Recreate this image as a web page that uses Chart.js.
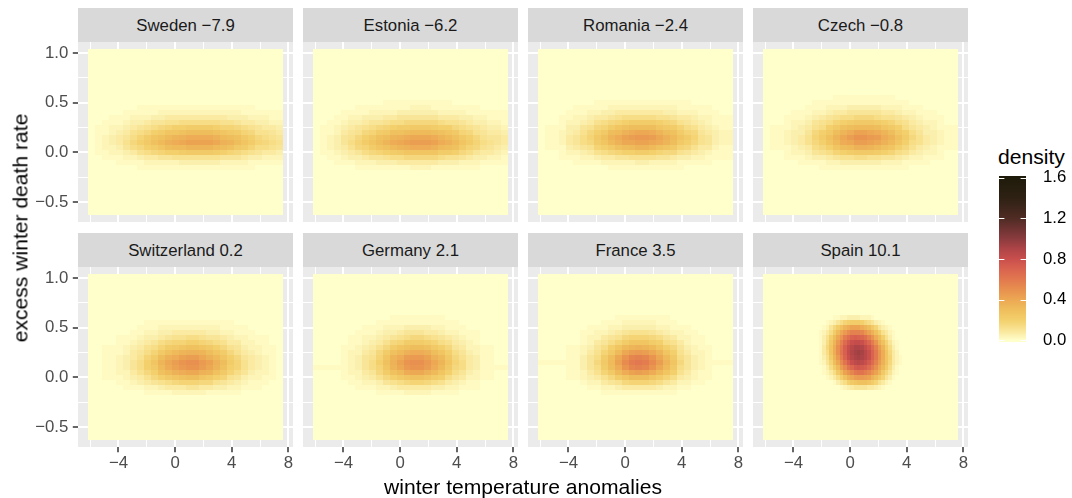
<!DOCTYPE html>
<html>
<head>
<meta charset="utf-8">
<script src="https://cdn.jsdelivr.net/npm/chart.js@4.4.1/dist/chart.umd.min.js"></script>
<style>
  html, body { margin: 0; padding: 0; background: #fff; }
  #fig { position: relative; width: 1072px; height: 498px; overflow: hidden;
         font-family: "Liberation Sans", Arial, Helvetica, sans-serif; }
  #fig canvas { position: absolute; }
  .strip { position: absolute; height: 33px; padding-top: 1px; line-height: 34px; background: #D9D9D9;
           color: #1A1A1A; font-size: 16.8px; text-align: center; white-space: nowrap; }
  .title { position: absolute; color: #000; font-size: 21.1px; line-height: 1; white-space: nowrap; }
</style>
</head>
<body>
<div id="fig"></div>
<script>
// ---------------- data ----------------
const countries   = ["Sweden", "Estonia", "Romania", "Czech", "Switzerland", "Germany", "France", "Spain"];
const winterTemps = [-7.9, -6.2, -2.4, -0.8, 0.2, 2.1, 3.5, 10.1];

const xBreaks      = [-4, 0, 4, 8];
const xMinorBreaks = [-6, -2, 2, 6];
const yBreaks      = [-0.5, 0, 0.5, 1];
const yMinorBreaks = [-0.25, 0.25, 0.75];
const densityBreaks = [0, 0.4, 0.8, 1.2, 1.6];

// extent of the estimated density grid (x: temperature anomaly, y: death rate)
const gridX = [-6.17, 7.64];
const gridY = [-0.63, 1.035];

// each density row runs left -> right, rows run top -> bottom;
// one character per cell, value = index in densityDigits * densityStep
const densityStep   = 0.02;
const densityDigits = "0123456789abcdefghijklmnopqrstuvwxyzABCDEFGHIJKLMNOPQRSTUVWXYZ";
const Z = "0000000000000000000000000000";

const densitySweden = [
  Z, Z, Z, Z, Z, Z, Z, Z, Z, Z, Z,
  "0000000111111111111111110000",
  "0000011111222222222222111111",
  "0001112223344444444433322211",
  "0011123345566777777665443322",
  "011223456789aabbbba998765443",
  "011234678abddeffffedcb986654",
  "01234579bdeghijjjjigfeca8765",
  "0123468acegijkllllkihfdb9876",
  "01223578abdfgghhhhgfecb97765",
  "01122346789aabccccba98765443",
  "0011122344556666666555433222",
  "0000111122222333333222211111",
  "0000000111111111111111110000",
  Z, Z, Z, Z, Z, Z, Z, Z, Z
];

const densityEstonia = [
  Z, Z, Z, Z, Z, Z, Z, Z, Z, Z,
  "0000000000111111111100000000",
  "0000001111111122211111110000",
  "0000111122223333332222111111",
  "0001122333445555554443322111",
  "0011233455677888887665433221",
  "01123456789abbcccbaa87654332",
  "011245689bceefgggfedc9865443",
  "0123568acefhijkkkjhgeca86554",
  "0123579bdfhjklmmmljigdb97654",
  "01234689bdeghijjjigfeb986543",
  "0112345789abcdddddbba8754432",
  "0011233455677888887665433221",
  "0001112223334444443332221111",
  "0000001111111122211111110000",
  Z, Z, Z, Z, Z, Z, Z, Z, Z
];

const densityRomania = [
  Z, Z, Z, Z, Z, Z, Z, Z, Z, Z,
  "0000000011111111111111000000",
  "0000011111222222222211111000",
  "0000111223344444443322211100",
  "0001122344567777766544322111",
  "000122346789abbbba9865432111",
  "0111335689bdeffffdcb97643211",
  "01123468acfgijkkjhfeb9854322",
  "01124579cehjlmnnmkigdb965322",
  "01124578bdgikkllkjhfca865322",
  "011134569acefghhgedc98644211",
  "000122346789aabba98865432111",
  "0001112234455666655433221111",
  "0000011112222233222211111000",
  "0000000000111111111110000000",
  Z, Z, Z, Z, Z, Z, Z, Z, Z
];

const densityCzech = [
  Z, Z, Z, Z, Z, Z, Z, Z, Z,
  "0000000000111111111000000000",
  "0000000111111111111110000000",
  "0000001112223333322211100000",
  "0000111223445555544322111000",
  "0001112345677888766543211100",
  "00012235679abcccba9764322100",
  "011123467acefgggfdca75432111",
  "01123358acfhjllkjhfca7533211",
  "01123469behkmoonmjheb8643211",
  "01123468adgjkmmlkigda7643211",
  "011123478adfgiihgeda86432111",
  "00012235679abcccba9764322100",
  "0001112334566776655432211100",
  "0000011112233333322211110000",
  "0000000011111111111110000000",
  Z, Z, Z, Z, Z, Z, Z, Z, Z
];

const densitySwitzerland = [
  Z, Z, Z, Z, Z, Z, Z, Z, Z,
  "0000000011111111111110000000",
  "0000000111222222222111100000",
  "0000001122334444433221110000",
  "0000111233456677655432211100",
  "00001123457899aa987644221100",
  "00111234679bcdeedca865322110",
  "0011124579ceghiihfdb86432110",
  "001123469bfijlmmkigda8543210",
  "00112357adhkmoppnlifb9643210",
  "00112357acgjlnoomkhea9643210",
  "001122468aegijkkihec97532210",
  "0011123468acdeffdca965322110",
  "0000112345678999886543211100",
  "0000011122344455443322111000",
  "0000000011112222211111000000",
  Z, Z, Z, Z, Z, Z, Z, Z, Z
];

const densityGermany = [
  Z, Z, Z, Z, Z, Z, Z, Z,
  "0000000000011111111000000000",
  "0000000001111111111110000000",
  "0000000111222333322111000000",
  "0000001112334555443221110000",
  "0000011223456788765432110000",
  "0000011234689bbba97643210000",
  "00001123468bdeffeca854221100",
  "0000122458begijjifda75321100",
  "0000123569dhjmnnligc86431100",
  "000012357aeiloppnkhd97431100",
  "1111123579dhknoomjgc87431111",
  "0000122458begjkkigda75321100",
  "00001123468acdeedba754221100",
  "0000011223567899876432110000",
  "0000001112234444433221110000",
  "0000000001111222211110000000",
  Z, Z, Z, Z, Z, Z, Z, Z, Z
];

const densityFrance = [
  Z, Z, Z, Z, Z, Z, Z, Z,
  "0000000000011111111000000000",
  "0000000001112222211100000000",
  "0000000111223333322111000000",
  "0000001122345666543221100000",
  "0000001224568999875422110000",
  "000000124579bdddba7642110000",
  "0000112357adghihgda853211000",
  "0000112469cgkmnmkhda64221000",
  "000011357bfkorsrokgc75321000",
  "111111358cglqtutqmhd85321111",
  "000011357bfjorsrokgc75321000",
  "0000112469cgjlmljgda64211000",
  "00001123468bdfffdb9743211000",
  "0000001224568999875422110000",
  "0000000112234444432211000000",
  "0000000001111111111100000000",
  Z, Z, Z, Z, Z, Z, Z, Z, Z
];

// Spain is read on a finer grid (56 columns); zero runs are written as repeats
const Z56 = "0".repeat(56);
const densitySpain = [
  Z56, Z56, Z56, Z56, Z56, Z56, Z56, Z56,
  "0".repeat(20) + "112233332221"             + "0".repeat(24),
  "0".repeat(18) + "123579abbba875321"        + "0".repeat(21),
  "0".repeat(17) + "1258behjllljhfc95321"     + "0".repeat(19),
  "0".repeat(16) + "1247bgknqsssroliea6421"   + "0".repeat(18),
  "0".repeat(16) + "136afkotwzAzywsojfa631"   + "0".repeat(18),
  "0".repeat(16) + "137chnsxBEFFEBytoie9521"  + "0".repeat(17),
  "0".repeat(16) + "148djpuAEHJJIFCxsmhb731"  + "0".repeat(17),
  "0".repeat(16) + "147djpvAFIKLKHEzuojd842"  + "0".repeat(17),
  "0".repeat(16) + "136bhntzEHJKJHEzuojd9421" + "0".repeat(16),
  "0".repeat(16) + "1259fkqvAEGHGEBxsnid8421" + "0".repeat(16),
  "0".repeat(17) + "137bgmqvyBCBAxtpkgb731"   + "0".repeat(17),
  "0".repeat(17) + "1247cgloruvvtrolhc8521"   + "0".repeat(17),
  "0".repeat(18) + "1247aeikmnnmlifc9531"     + "0".repeat(18),
  "0".repeat(20) + "1357acdeeedb96421"        + "0".repeat(19),
  "0".repeat(22) + "1234555544321"            + "0".repeat(21),
  Z56, Z56, Z56, Z56, Z56, Z56, Z56, Z56, Z56, Z56
];

const densityGrids = [densitySweden, densityEstonia, densityRomania, densityCzech,
                      densitySwitzerland, densityGermany, densityFrance, densitySpain];

// fill scale for density
const fillStops  = [0, 0.1, 0.2, 0.3, 0.4, 0.5, 0.6, 0.7, 0.8, 0.9, 1.0, 1.2, 1.4, 1.6];
const fillColors = ["#FFFFCC", "#F9E598", "#F3D06C", "#EFBE5C", "#ECA853", "#E8904F", "#E2784F",
                    "#D9634F", "#C94F4D", "#AE4447", "#8A3B3E", "#4F2B24", "#2E2114", "#1F1B0B"];

// ---------------- helpers ----------------
const FONT = "'Liberation Sans', Arial, Helvetica, sans-serif";
const TICK_SIZE = 16.8;
const hexRgb = h => [1, 3, 5].map(i => parseInt(h.slice(i, i + 2), 16));
const fillRgb = fillColors.map(hexRgb);

function fillFor(v) {
  if (v <= fillStops[0]) return fillColors[0];
  const n = fillStops.length;
  if (v >= fillStops[n - 1]) return fillColors[n - 1];
  let i = 1;
  while (fillStops[i] < v) i++;
  const t = (v - fillStops[i - 1]) / (fillStops[i] - fillStops[i - 1]);
  const a = fillRgb[i - 1], b = fillRgb[i];
  const c = a.map((q, j) => Math.round(q + (b[j] - q) * t));
  return `rgb(${c[0]},${c[1]},${c[2]})`;
}

const minus = v => (v < 0 ? "\u2212" : "");
const stripLabel = (name, t) => `${name} ${minus(t)}${Math.abs(t).toFixed(1)}`;

function decodeGrid(rows) {
  const nRows = rows.length, nCols = rows[0].length;
  const w = (gridX[1] - gridX[0]) / nCols;
  const h = (gridY[1] - gridY[0]) / nRows;
  const cells = [];
  rows.forEach((row, k) => {
    for (let i = 0; i < nCols; i++) {
      const idx = densityDigits.indexOf(row[i]);
      cells.push({
        x: gridX[0] + (i + 0.5) * w,
        y: gridY[1] - (k + 0.5) * h,
        v: Math.max(idx, 0) * densityStep
      });
    }
  });
  return { cells, w, h };
}

// ---------------- plugins ----------------
const panelBackground = {
  id: "panelBackground",
  beforeDraw(chart) {
    const { ctx, chartArea: a } = chart;
    ctx.save();
    ctx.fillStyle = "#EBEBEB";
    ctx.fillRect(a.left, a.top, a.right - a.left, a.bottom - a.top);
    ctx.restore();
  }
};

const densityRaster = {
  id: "densityRaster",
  beforeDatasetsDraw(chart) {
    const { ctx } = chart;
    const xs = chart.scales.x, ys = chart.scales.y;
    ctx.save();
    chart.data.datasets.forEach(ds => {
      if (!ds.cellWidth) return;
      const hw = ds.cellWidth / 2, hh = ds.cellHeight / 2;
      ds.data.forEach(p => {
        const l = Math.round(xs.getPixelForValue(p.x - hw));
        const r = Math.round(xs.getPixelForValue(p.x + hw));
        const t = Math.round(ys.getPixelForValue(p.y + hh));
        const b = Math.round(ys.getPixelForValue(p.y - hh));
        ctx.fillStyle = fillFor(p.v);
        ctx.fillRect(l, t, r - l, b - t);
      });
    });
    ctx.restore();
  }
};

const colourBar = {
  id: "colourBar",
  beforeDatasetsDraw(chart) {
    const { ctx, chartArea: a } = chart;
    const ys = chart.scales.y;
    ctx.save();
    for (let py = Math.round(a.top); py < Math.round(a.bottom); py++) {
      ctx.fillStyle = fillFor(ys.getValueForPixel(py + 0.5));
      ctx.fillRect(a.left, py, a.right - a.left, 1);
    }
    const tick = (a.right - a.left) / 5;
    ctx.strokeStyle = "#FFFFFF";
    ctx.lineWidth = 1;
    densityBreaks.forEach(v => {
      const py = Math.round(ys.getPixelForValue(v)) + 0.5;
      ctx.beginPath();
      ctx.moveTo(a.left, py); ctx.lineTo(a.left + tick, py);
      ctx.moveTo(a.right - tick, py); ctx.lineTo(a.right, py);
      ctx.stroke();
    });
    ctx.restore();
  }
};

// ---------------- layout ----------------
const fig = document.getElementById("fig");
const panelLefts = [78, 303, 528, 753];
const panelTops  = [42, 267];
const stripTops  = [8, 233];
const PW = 215, PH = 180, M = 20;
const Y_AXIS_W = 78, X_AXIS_H = 30;

const xTickValues = [...xMinorBreaks, ...xBreaks].sort((a, b) => a - b);
const yTickValues = [...yMinorBreaks, ...yBreaks].sort((a, b) => a - b);
const isMajorX = v => xBreaks.some(b => Math.abs(b - v) < 1e-9);
const isMajorY = v => yBreaks.some(b => Math.abs(b - v) < 1e-9);

countries.forEach((name, p) => {
  const r = Math.floor(p / 4), c = p % 4;
  const pl = panelLefts[c], pt = panelTops[r];

  const strip = document.createElement("div");
  strip.className = "strip";
  strip.style.left = pl + "px";
  strip.style.top = stripTops[r] + "px";
  strip.style.width = PW + "px";
  strip.textContent = stripLabel(name, winterTemps[p]);
  fig.appendChild(strip);

  const leftAxis = c === 0, bottomAxis = r === 1;
  const cl = leftAxis ? 0 : pl - M;
  const cw = pl + PW + M - cl;
  const ct = pt - M;
  const ch = M + PH + (bottomAxis ? X_AXIS_H : M);

  const canvas = document.createElement("canvas");
  canvas.width = cw; canvas.height = ch;
  canvas.style.left = cl + "px"; canvas.style.top = ct + "px";
  canvas.style.width = cw + "px"; canvas.style.height = ch + "px";
  fig.appendChild(canvas);

  const grid = decodeGrid(densityGrids[p]);

  new Chart(canvas, {
    type: "scatter",
    data: {
      datasets: [{
        data: grid.cells,
        cellWidth: grid.w,
        cellHeight: grid.h,
        pointRadius: 0,
        pointHoverRadius: 0,
        showLine: false
      }]
    },
    options: {
      responsive: false,
      animation: false,
      events: [],
      layout: { padding: { top: M, right: M, bottom: bottomAxis ? 0 : M, left: leftAxis ? 0 : M } },
      plugins: { legend: { display: false }, tooltip: { enabled: false } },
      scales: {
        x: {
          type: "linear", min: -6.86, max: 8.33,
          afterBuildTicks: s => { s.ticks = xTickValues.map(v => ({ value: v })); },
          afterFit: s => { s.height = bottomAxis ? X_AXIS_H : 0; },
          border: { display: false },
          grid: {
            color: "#FFFFFF",
            lineWidth: ctx => (ctx.tick && isMajorX(ctx.tick.value) ? 2 : 1),
            drawTicks: bottomAxis,
            tickLength: 5.2,
            tickWidth: 1.5,
            tickColor: ctx => (ctx.tick && isMajorX(ctx.tick.value) ? "#333333" : "rgba(0,0,0,0)")
          },
          ticks: {
            display: bottomAxis, autoSkip: false, maxRotation: 0, padding: 1.3,
            color: "#4D4D4D", font: { family: FONT, size: TICK_SIZE },
            callback: v => (isMajorX(v) ? minus(v) + Math.abs(v) : "")
          }
        },
        y: {
          type: "linear", min: -0.702, max: 1.11,
          afterBuildTicks: s => { s.ticks = yTickValues.map(v => ({ value: v })); },
          afterFit: s => { s.width = leftAxis ? Y_AXIS_W : 0; },
          border: { display: false },
          grid: {
            color: "#FFFFFF",
            lineWidth: ctx => (ctx.tick && isMajorY(ctx.tick.value) ? 2 : 1),
            drawTicks: leftAxis,
            tickLength: 5.2,
            tickWidth: 1.5,
            tickColor: ctx => (ctx.tick && isMajorY(ctx.tick.value) ? "#333333" : "rgba(0,0,0,0)")
          },
          ticks: {
            display: leftAxis, autoSkip: false, padding: 4.5,
            color: "#4D4D4D", font: { family: FONT, size: TICK_SIZE },
            callback: v => (isMajorY(v) ? minus(v) + Math.abs(v).toFixed(1) : "")
          }
        }
      }
    },
    plugins: [panelBackground, densityRaster]
  });
});

// axis titles
const xTitle = document.createElement("div");
xTitle.className = "title";
xTitle.textContent = "winter temperature anomalies";
xTitle.style.left = "78px";
xTitle.style.width = (968 - 78) + "px";
xTitle.style.textAlign = "center";
xTitle.style.top = "476px";
fig.appendChild(xTitle);

const yTitle = document.createElement("div");
yTitle.className = "title";
yTitle.textContent = "excess winter death rate";
yTitle.style.left = "20px";
yTitle.style.top = "227.5px";
yTitle.style.transform = "translate(-50%, -50%) rotate(-90deg)";
fig.appendChild(yTitle);

// legend
const legendTitle = document.createElement("div");
legendTitle.className = "title";
legendTitle.textContent = "density";
legendTitle.style.left = "998px";
legendTitle.style.top = "146px";
fig.appendChild(legendTitle);

const barCanvas = document.createElement("canvas");
const BL = 990, BT = 140, BW = 82, BH = 230;
barCanvas.width = BW; barCanvas.height = BH;
barCanvas.style.left = BL + "px"; barCanvas.style.top = BT + "px";
barCanvas.style.width = BW + "px"; barCanvas.style.height = BH + "px";
fig.appendChild(barCanvas);

new Chart(barCanvas, {
  type: "scatter",
  data: { datasets: [] },
  options: {
    responsive: false,
    animation: false,
    events: [],
    layout: { padding: { left: 9, top: 36, bottom: 28.5, right: 0 } },
    plugins: { legend: { display: false }, tooltip: { enabled: false } },
    scales: {
      x: { display: false, min: 0, max: 1 },
      y: {
        position: "right", min: -0.01, max: 1.615,
        afterBuildTicks: s => { s.ticks = densityBreaks.map(v => ({ value: v })); },
        afterFit: s => { s.width = BW - 9 - 27; },
        border: { display: false },
        grid: { display: false, drawTicks: false },
        ticks: {
          padding: 17, color: "#000000", font: { family: FONT, size: TICK_SIZE },
          callback: v => v.toFixed(1)
        }
      }
    }
  },
  plugins: [colourBar]
});
</script>
</body>
</html>
